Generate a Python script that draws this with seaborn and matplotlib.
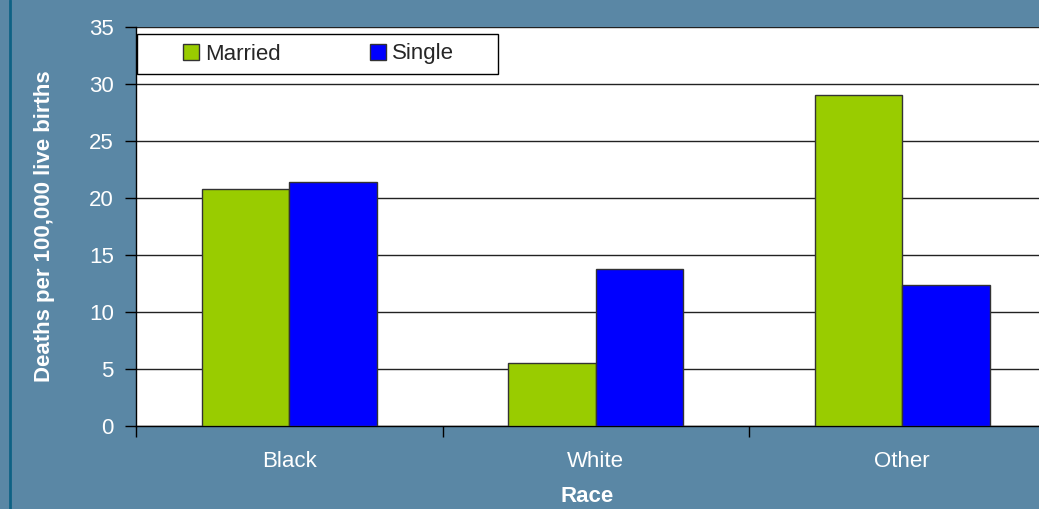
import matplotlib.pyplot as plt
import seaborn as sns
import pandas as pd
from matplotlib.lines import Line2D
from matplotlib.patches import Rectangle

# ---- data ----
races = ['Black', 'White', 'Other']
married = [20.8, 5.5, 29.0]
single = [21.4, 13.8, 12.4]
groups = ['Married', 'Single']
bar_colors = ['#99CC00', '#0000FF']

df = pd.DataFrame({
    'race': races * 2,
    'status': [groups[0]] * 3 + [groups[1]] * 3,
    'rate': married + single,
})

bg = '#5A87A5'

sns.set_style('white')
plt.rcParams['font.family'] = ['Liberation Sans', 'DejaVu Sans']

fig = plt.figure(figsize=(10.39, 5.09), dpi=100, facecolor=bg)
ax = fig.add_axes([136 / 1039, 1 - 426 / 509, 1 - 136 / 1039, (426 - 27) / 509])
ax.set_facecolor('white')

p = sns.barplot(data=df, x='race', y='rate', hue='status', order=races, hue_order=groups,
                palette=bar_colors, width=0.57, gap=0, edgecolor='#333333', linewidth=1,
                saturation=1, ax=ax, zorder=3)

# ticks first, limits after (set_xticks can widen the view)
ax.set_yticks(range(0, 36, 5))
ax.set_xticks([-0.5, 0.5, 1.5, 2.5], minor=True)
ax.set_ylim(0, 35)
ax.set_xlim(-0.5, 2.446)

ax.yaxis.grid(True, color='#222222', linewidth=1, zorder=0)
ax.set_axisbelow(True)
for side in ['top', 'right']:
    ax.spines[side].set_visible(False)
for side in ['left', 'bottom']:
    ax.spines[side].set_color('black')
    ax.spines[side].set_linewidth(1)

ax.tick_params(axis='y', direction='out', length=8, width=1, color='black',
               labelcolor='white', labelsize=16, pad=8, left=True)
ax.tick_params(axis='x', which='major', length=0, labelcolor='white', labelsize=16, pad=18)
ax.tick_params(axis='x', which='minor', direction='out', length=8, width=1, color='black', bottom=True)

ax.set_xlabel('Race', color='white', fontsize=16, fontweight='bold', labelpad=10)
ax.set_ylabel('Deaths per 100,000 live births', color='white', fontsize=16, fontweight='bold')
ax.yaxis.set_label_coords(-0.09, 0.5)

# legend: entries without frame, box drawn separately
handles, labels = ax.get_legend_handles_labels()
leg = ax.legend(handles, labels, loc='center left',
                bbox_to_anchor=((183 - 136) / 903, (426 - 54) / 399),
                ncol=2, frameon=False, fontsize=16,
                handlelength=0.72, handleheight=0.72, handletextpad=0.28,
                columnspacing=4.0, borderaxespad=0, borderpad=0)
leg.set_zorder(6)
ax.add_patch(Rectangle(((137 - 136) / 903, (426 - 74) / 399), 361 / 903, 40 / 399,
                       transform=ax.transAxes, facecolor='white', edgecolor='black',
                       linewidth=1, zorder=5, clip_on=False))

# dark edge line on the left
fig.add_artist(Line2D([10 / 1039, 10 / 1039], [0, 1], transform=fig.transFigure,
                      color='#0E6285', linewidth=2))

plt.savefig('out.png', dpi=100, facecolor=bg)
